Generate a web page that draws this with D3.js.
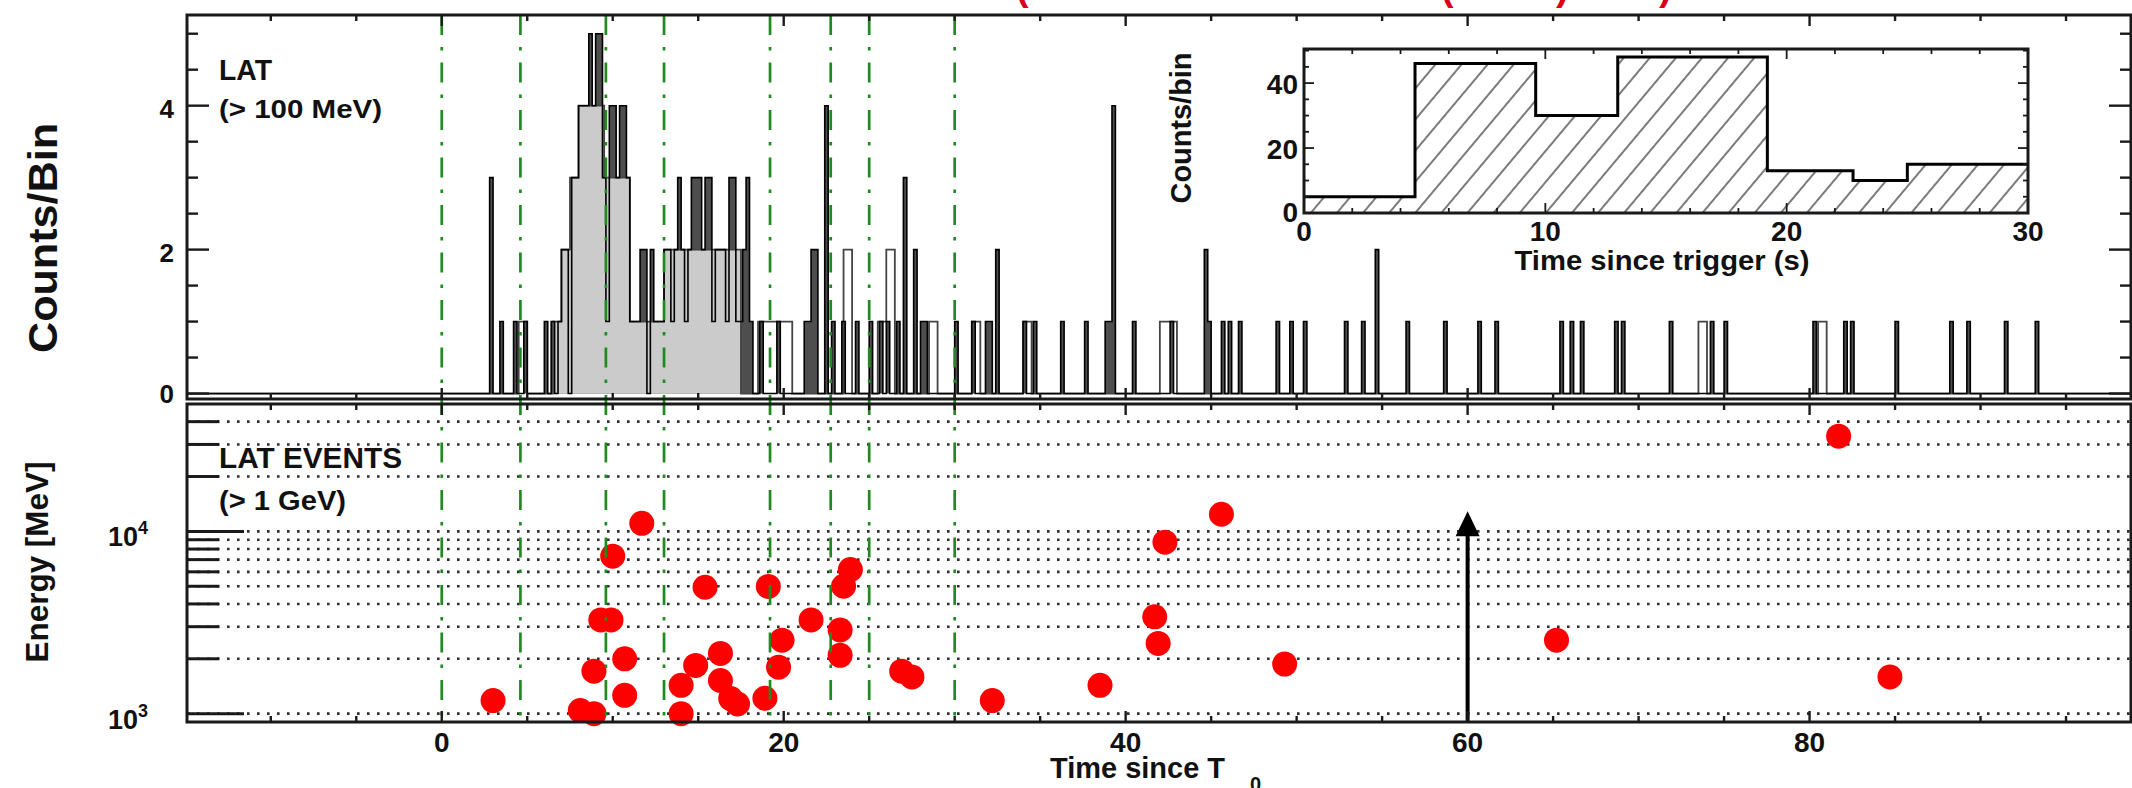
<!DOCTYPE html>
<html>
<head>
<meta charset="utf-8">
<script src="https://cdn.jsdelivr.net/npm/d3@7"></script>
<style>
  html, body { margin: 0; padding: 0; background: #fff; }
  svg { display: block; }
  text { font-family: "Liberation Sans", Arial, Helvetica, sans-serif; font-weight: bold; fill: #111; }
</style>
</head>
<body>
<svg id="chart" width="2132" height="788"></svg>
<script>
// ---------------- data ----------------
const timeDomain = [-14.9, 98.8];          // s since T0
const countDomain = [-0.076, 5.26];        // counts per bin (upper panel)
const energyDomain = [900, 50000];         // MeV (lower panel, log)

// LAT > 100 MeV light curve, fine binning: [bin start (s), counts]
const fineBinWidth = 0.2;
const fineBins = [
  [2.8,3],[3.4,1],[4.2,1],[4.8,1],[6.0,1],[6.4,1],
  [6.8,1],[7.0,2],[7.2,2],[7.6,3],[7.8,3],[8.0,4],[8.2,4],[8.4,4],[8.6,5],[8.8,4],[9.0,5],[9.2,5],
  [9.4,3],[9.6,1],[9.8,4],[10.0,4],[10.2,3],[10.4,4],[10.6,4],[10.8,3],[11.0,1],[11.2,1],[11.4,1],
  [11.6,2],[11.8,2],[12.2,2],[12.4,1],[12.6,1],[12.8,1],[13.0,2],[13.2,2],[13.4,1],[13.6,2],[13.8,3],
  [14.0,2],[14.2,1],[14.4,2],[14.6,3],[14.8,3],[15.0,3],[15.2,2],[15.4,3],[15.6,3],[15.8,1],[16.0,2],
  [16.2,2],[16.4,2],[16.6,1],[16.8,3],[17.0,3],[17.2,1],[17.4,1],[17.6,2],[17.8,3],[18.0,1],
  [18.6,1],[19.6,1],[21.2,1],[21.4,1],[21.6,2],[21.8,2],[22.4,4],[22.8,1],[23.4,1],[24.2,1],
  [25.0,1],[25.6,1],[26.0,1],[26.6,1],[27.0,3],[27.6,2],[28.0,1],[28.2,1],[30.0,1],[31.0,1],
  [31.8,1],[32.0,1],[32.4,2],[34.0,1],[34.6,1],[36.2,1],[37.6,1],[38.8,1],[39.0,1],[39.2,4],
  [40.4,1],[42.6,1],[44.6,2],[44.8,1],[45.6,1],[46.0,1],[46.6,1],[48.8,1],[49.6,1],[50.4,1],
  [52.8,1],[53.8,1],[54.6,2],[56.4,1],[58.6,1],[60.6,1],[61.6,1],[65.4,1],[66.0,1],[66.6,1],
  [68.6,1],[69.0,1],[71.8,1],[74.2,1],[75.0,1],[80.2,1],[82.0,1],[82.4,1],[85.0,1],[88.2,1],
  [89.2,1],[91.4,1],[93.2,1]
];

// coarse binning: [bin start (s), counts]
const coarseBinWidth = 0.5;
const coarseBins = [
  [4.5,1],[6.5,1],[7.0,2],[7.5,3],[8.0,4],[8.5,4],[9.0,4],[9.5,3],[10.0,3],[10.5,3],[11.0,1],[11.5,1],
  [12.0,1],[12.5,1],[13.0,2],[13.5,2],[14.0,2],[14.5,2],[15.0,2],[15.5,2],[16.0,2],[16.5,2],[17.0,2],
  [18.5,1],[19.0,1],[19.5,1],[20.0,1],[23.5,2],[25.5,1],[26.0,2],[28.5,1],[31.0,1],[34.0,1],
  [42.0,1],[42.5,1],[73.5,1],[80.5,1]
];
const shadedWindow = [6.5, 17.5];   // interval drawn with the grey fill

// time intervals (dash-dot lines) and counts per interval (inset)
const intervalEdges = [0, 4.6, 9.6, 13.0, 19.2, 22.75, 25.0, 30.0];
const intervalCounts = [5, 46, 30, 48, 13, 10, 15];

// LAT events > 1 GeV
const eventTimes = [3.0, 8.1, 8.9, 8.9, 9.3, 9.9, 10.0, 10.7, 10.7, 11.7, 14.0, 14.0, 14.85, 15.4,
  16.3, 16.3, 16.9, 17.3, 18.9, 19.1, 19.7, 19.9, 21.6, 23.3, 23.3, 23.5, 23.9, 26.9, 27.5, 32.2,
  38.5, 41.7, 41.9, 42.3, 45.6, 49.3, 65.2, 81.7, 84.7];
const eventEnergies = [1180, 1040, 1000, 1710, 3270, 3270, 7310, 2000, 1260, 11070, 1430, 1000, 1840, 4940,
  2140, 1520, 1210, 1130, 1215, 4990, 1800, 2530, 3270, 2880, 2090, 5000, 6170, 1710, 1590, 1180,
  1430, 3400, 2430, 8730, 12420, 1870, 2530, 33300, 1590];

// arrow marker
const arrowTime = 60;
const arrowEnergies = [900, 12900];

// ticks
const countTickLabels = [0, 2, 4];
const timeTickLabels = [0, 20, 40, 60, 80];
const energyMajor = [1000, 10000];
const energyGrid = [1000, 2000, 3000, 4000, 5000, 6000, 7000, 8000, 9000, 10000, 20000, 30000, 40000];
const insetXTicks = [0, 10, 20, 30];
const insetYTicks = [0, 20, 40];

// ---------------- layout ----------------
const svg = d3.select("#chart");
const L = 187, R = 2131;
const up = { t: 15, b: 399 };
const lo = { t: 404, b: 722 };
const inset = { l: 1304, r: 2028, t: 49, b: 213 };

const x = d3.scaleLinear().domain(timeDomain).range([L, R]);
const yC = d3.scaleLinear().domain(countDomain).range([up.b, up.t]);
const yE = d3.scaleLog().domain(energyDomain).range([lo.b, lo.t]);
const xi = d3.scaleLinear().domain([0, 30]).range([inset.l, inset.r]);
const yi = d3.scaleLinear().domain([0, 50.5]).range([inset.b, inset.t]);

const INK = "#1a1a1a";
const GREEN = "#1f8a1f";

const defs = svg.append("defs");
defs.append("clipPath").attr("id", "clipUpper")
  .append("rect").attr("x", L).attr("y", up.t).attr("width", R - L).attr("height", up.b - up.t);
defs.append("clipPath").attr("id", "clipWindow")
  .append("rect").attr("x", x(shadedWindow[0])).attr("y", up.t)
  .attr("width", x(shadedWindow[1]) - x(shadedWindow[0])).attr("height", up.b - up.t);
const hatch = defs.append("pattern").attr("id", "hatch")
  .attr("patternUnits", "userSpaceOnUse").attr("width", 20).attr("height", 20)
  .attr("patternTransform", "rotate(40)");
hatch.append("line").attr("x1", 1).attr("y1", 0).attr("x2", 1).attr("y2", 20)
  .attr("stroke", "#333").attr("stroke-width", 1.3);

// dense step series from sparse bins
function dense(bins, w) {
  const m = new Map(bins.map(([t, c]) => [Math.round(t / w), c]));
  const i0 = Math.floor(timeDomain[0] / w), i1 = Math.ceil(timeDomain[1] / w);
  const out = [];
  for (let i = i0; i <= i1; i++) out.push({ t: i * w, c: m.get(i) || 0 });
  return out;
}
const fine = dense(fineBins, fineBinWidth);
const coarse = dense(coarseBins, coarseBinWidth);

const stepArea = d3.area().curve(d3.curveStepAfter).x(d => x(d.t)).y0(yC(0)).y1(d => yC(d.c));
const stepLine = d3.line().curve(d3.curveStepAfter).x(d => x(d.t)).y(d => yC(d.c));

// ---------------- upper panel: light curve ----------------
const gUp = svg.append("g").attr("clip-path", "url(#clipUpper)");
gUp.append("path").attr("d", stepArea(fine)).attr("fill", "#4e4e4e");
gUp.append("path").attr("d", stepArea(coarse)).attr("fill", "#cbcbcb").attr("clip-path", "url(#clipWindow)");
gUp.append("path").attr("d", stepLine(coarse)).attr("fill", "none").attr("stroke", "#444").attr("stroke-width", 1.8);
gUp.append("path").attr("d", stepLine(fine)).attr("fill", "none").attr("stroke", "#000").attr("stroke-width", 1.6);

// ---------------- lower panel: events ----------------
const gLo = svg.append("g");
gLo.selectAll("line.grid").data(energyGrid).join("line").attr("class", "grid")
  .attr("x1", L).attr("x2", R).attr("y1", d => yE(d)).attr("y2", d => yE(d))
  .attr("stroke", "#2e2e2e").attr("stroke-width", 2.6).attr("stroke-dasharray", "2.6 7.4");

gLo.selectAll("circle").data(eventTimes.map((t, i) => [t, eventEnergies[i]])).join("circle")
  .attr("cx", d => x(d[0])).attr("cy", d => yE(d[1])).attr("r", 12.5).attr("fill", "#ff0000");

// arrow
const ax = x(arrowTime), ay0 = yE(arrowEnergies[0]), ay1 = yE(arrowEnergies[1]);
gLo.append("line").attr("x1", ax).attr("x2", ax).attr("y1", ay0).attr("y2", ay1 + 20)
  .attr("stroke", "#000").attr("stroke-width", 4);
gLo.append("path").attr("d", `M${ax},${ay1} L${ax - 12},${ay1 + 25} L${ax + 12},${ay1 + 25} Z`).attr("fill", "#000");

// interval lines across both panels
svg.append("g").selectAll("line").data(intervalEdges).join("line")
  .attr("x1", d => x(d)).attr("x2", d => x(d)).attr("y1", up.t).attr("y2", lo.b)
  .attr("stroke", GREEN).attr("stroke-width", 2.7).attr("stroke-dasharray", "20 12 3.5 12");

// ---------------- frames & ticks ----------------
const gAx = svg.append("g").attr("stroke", INK).attr("fill", "none");
function xTicks(yLine, dir) {
  d3.range(-10, timeDomain[1], 5).forEach(t => {
    const len = t % 20 === 0 ? 11 : 6;
    gAx.append("line").attr("x1", x(t)).attr("x2", x(t)).attr("y1", yLine).attr("y2", yLine + dir * len)
      .attr("stroke-width", 2.4);
  });
}
xTicks(up.t, 1); xTicks(up.b, -1); xTicks(lo.t, 1); xTicks(lo.b, -1);

d3.range(0, 5.01, 0.5).forEach(v => {
  const len = v % 2 === 0 ? 22 : 11;
  gAx.append("line").attr("x1", L).attr("x2", L + len).attr("y1", yC(v)).attr("y2", yC(v)).attr("stroke-width", 2.4);
  gAx.append("line").attr("x1", R).attr("x2", R - len).attr("y1", yC(v)).attr("y2", yC(v)).attr("stroke-width", 2.4);
});
energyGrid.forEach(e => {
  const len = energyMajor.includes(e) ? 57 : 32;
  gAx.append("line").attr("x1", L).attr("x2", L + len).attr("y1", yE(e)).attr("y2", yE(e)).attr("stroke-width", 3);
});

gAx.append("rect").attr("x", L).attr("y", up.t).attr("width", R - L).attr("height", up.b - up.t).attr("stroke-width", 3);
gAx.append("rect").attr("x", L).attr("y", lo.t).attr("width", R - L).attr("height", lo.b - lo.t).attr("stroke-width", 3);

// tick labels
const gT = svg.append("g");
gT.selectAll("text.cy").data(countTickLabels).join("text").attr("class", "cy")
  .attr("x", 174).attr("y", d => yC(d) + 9 + (d > 0 ? 3 : 0)).attr("text-anchor", "end")
  .attr("font-size", 26).text(d => d);
gT.selectAll("text.tx").data(timeTickLabels).join("text").attr("class", "tx")
  .attr("x", d => x(d)).attr("y", 752).attr("text-anchor", "middle").attr("font-size", 28).text(d => d);
energyMajor.forEach(e => {
  const t = gT.append("text").attr("x", 148).attr("y", yE(e) + 15).attr("text-anchor", "end").attr("font-size", 27);
  t.append("tspan").text("10");
  t.append("tspan").attr("font-size", 18).attr("dy", -12).text(Math.round(Math.log10(e)));
});

// axis titles
svg.append("text").attr("transform", "translate(43,238) rotate(-90)").attr("text-anchor", "middle")
  .attr("dy", "0.35em").attr("font-size", 40).attr("textLength", 230).attr("lengthAdjust", "spacingAndGlyphs")
  .text("Counts/Bin");
svg.append("text").attr("transform", "translate(37,562) rotate(-90)").attr("text-anchor", "middle")
  .attr("dy", "0.35em").attr("font-size", 31).attr("textLength", 201).attr("lengthAdjust", "spacingAndGlyphs")
  .text("Energy [MeV]");
svg.append("text").attr("x", 1050).attr("y", 778).attr("font-size", 30)
  .attr("textLength", 175).attr("lengthAdjust", "spacingAndGlyphs").text("Time since T");
svg.append("text").attr("x", 1250).attr("y", 791).attr("font-size", 20).text("0");

// panel annotations
svg.append("text").attr("x", 219).attr("y", 80).attr("font-size", 30)
  .attr("textLength", 53).attr("lengthAdjust", "spacingAndGlyphs").text("LAT");
svg.append("text").attr("x", 219).attr("y", 118).attr("font-size", 26)
  .attr("textLength", 163).attr("lengthAdjust", "spacingAndGlyphs").text("(> 100 MeV)");
svg.append("text").attr("x", 219).attr("y", 468).attr("font-size", 30)
  .attr("textLength", 183).attr("lengthAdjust", "spacingAndGlyphs").text("LAT EVENTS");
svg.append("text").attr("x", 219).attr("y", 510).attr("font-size", 27)
  .attr("textLength", 127).attr("lengthAdjust", "spacingAndGlyphs").text("(> 1 GeV)");

// red caption glyphs along the upper edge
[["(", 1016], ["(", 1441], [")", 1556], [")", 1659]].forEach(([ch, px]) => {
  svg.append("text").attr("x", px).attr("y", 0).attr("font-size", 38).attr("font-weight", "normal")
    .style("fill", "#d8001c").text(ch);
});

// ---------------- inset: counts per interval ----------------
const gI = svg.append("g");
gI.append("rect").attr("x", inset.l).attr("y", inset.t).attr("width", inset.r - inset.l)
  .attr("height", inset.b - inset.t).attr("fill", "#fff");
const insetSteps = intervalEdges.map((t, i) => ({ t, c: intervalCounts[Math.min(i, intervalCounts.length - 1)] }));
gI.append("path").attr("d", d3.area().curve(d3.curveStepAfter).x(d => xi(d.t)).y0(yi(0)).y1(d => yi(d.c))(insetSteps))
  .attr("fill", "url(#hatch)");
gI.append("path").attr("d", d3.line().curve(d3.curveStepAfter).x(d => xi(d.t)).y(d => yi(d.c))(insetSteps))
  .attr("fill", "none").attr("stroke", "#000").attr("stroke-width", 3);
const gIA = gI.append("g").attr("stroke", INK).attr("fill", "none");
d3.range(0, 30.01, 2).forEach(v => {
  const len = v % 10 === 0 ? 10 : 5;
  gIA.append("line").attr("x1", xi(v)).attr("x2", xi(v)).attr("y1", inset.b).attr("y2", inset.b - len).attr("stroke-width", 1.8);
  gIA.append("line").attr("x1", xi(v)).attr("x2", xi(v)).attr("y1", inset.t).attr("y2", inset.t + len).attr("stroke-width", 1.8);
});
d3.range(0, 50.01, 5).forEach(v => {
  const len = v % 20 === 0 ? 10 : 5;
  gIA.append("line").attr("x1", inset.l).attr("x2", inset.l + len).attr("y1", yi(v)).attr("y2", yi(v)).attr("stroke-width", 1.8);
  gIA.append("line").attr("x1", inset.r).attr("x2", inset.r - len).attr("y1", yi(v)).attr("y2", yi(v)).attr("stroke-width", 1.8);
});
gIA.append("rect").attr("x", inset.l).attr("y", inset.t).attr("width", inset.r - inset.l)
  .attr("height", inset.b - inset.t).attr("stroke-width", 3);

gI.selectAll("text.iy").data(insetYTicks).join("text").attr("class", "iy")
  .attr("x", 1298).attr("y", d => yi(d) + (d === 0 ? 9 : 11)).attr("text-anchor", "end").attr("font-size", 28).text(d => d);
gI.selectAll("text.ix").data(insetXTicks).join("text").attr("class", "ix")
  .attr("x", d => xi(d)).attr("y", 241).attr("text-anchor", "middle").attr("font-size", 28).text(d => d);
gI.append("text").attr("x", 1662).attr("y", 270).attr("text-anchor", "middle").attr("font-size", 28)
  .attr("textLength", 295).attr("lengthAdjust", "spacingAndGlyphs").text("Time since trigger (s)");
gI.append("text").attr("transform", "translate(1181,128) rotate(-90)").attr("text-anchor", "middle")
  .attr("dy", "0.35em").attr("font-size", 29).attr("textLength", 151).attr("lengthAdjust", "spacingAndGlyphs")
  .text("Counts/bin");
</script>
</body>
</html>
